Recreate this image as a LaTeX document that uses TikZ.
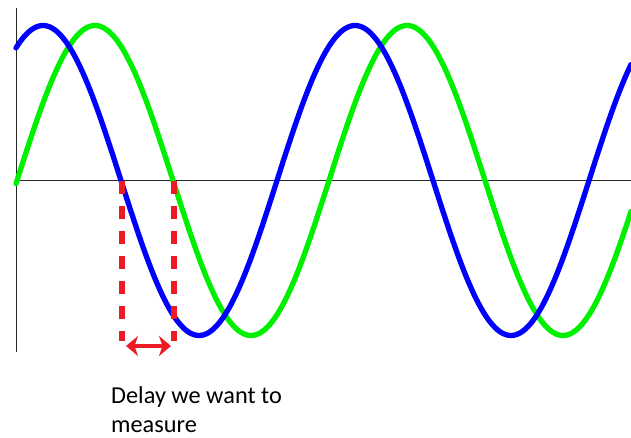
\documentclass[tikz,border=0pt]{standalone}
\usepackage{fontspec}
\setmainfont{Carlito}
\usetikzlibrary{arrows.meta}
\definecolor{wblue}{RGB}{0,0,255}
\definecolor{wgreen}{RGB}{0,240,0}
\definecolor{wred}{RGB}{237,28,36}
\tikzset{
  wave/.style={line width=5.3pt, line join=round, line cap=round},
  axis/.style={line width=1.3pt, black!85},
  delayline/.style={wred, line width=6pt, dash pattern=on 13pt off 12pt},
  headtip/.style={Stealth[length=12pt,width=19pt,inset=3pt,line width=2pt]},
  delayarrow/.style={wred, line width=4.5pt, {Stealth[length=12pt,width=20pt,inset=3.5pt,line width=2.5pt]}-{Stealth[length=12pt,width=20pt,inset=3.5pt,line width=2.5pt]}},
  lbl/.style={inner sep=0pt, anchor=base west, font=\fontsize{24.3}{29}\selectfont}
}
\begin{document}
\begin{tikzpicture}[x=1pt,y=-1pt]
\useasboundingbox (0,0) rectangle (631,437);
% axes
\coordinate (ytop) at (16.5,8);
\coordinate (ybot) at (16.5,352);
\coordinate (xl) at (16,180.5);
\coordinate (xr) at (631,180.5);
\draw[axis] (ytop) -- (ybot);
\draw[axis] (xl) -- (xr);
% waves
\draw[wave, wgreen] plot[domain=16:631, samples=240, smooth] (\x, {180.5 - 155*sin(((\x-17)/312)*360)});
\draw[wave, wblue] plot[domain=16:631, samples=240, smooth] (\x, {180.5 - 155*sin(((\x+35)/312)*360)});
% delay markers
\coordinate (d1t) at (122,181);
\coordinate (d1b) at (122,341);
\coordinate (d2t) at (174,181);
\coordinate (d2b) at (174,341);
\draw[delayline] (d1t) -- (d1b);
\draw[delayline] (d2t) -- (d2b);
\coordinate (al) at (126,346);
\coordinate (ar) at (171,346);
\draw[delayarrow] (al) -- (ar);
% label
\node[lbl] (lab1) at (111,403) {Delay we want to};
\node[lbl] (lab2) at (111,432) {measure};
\end{tikzpicture}
\end{document}
